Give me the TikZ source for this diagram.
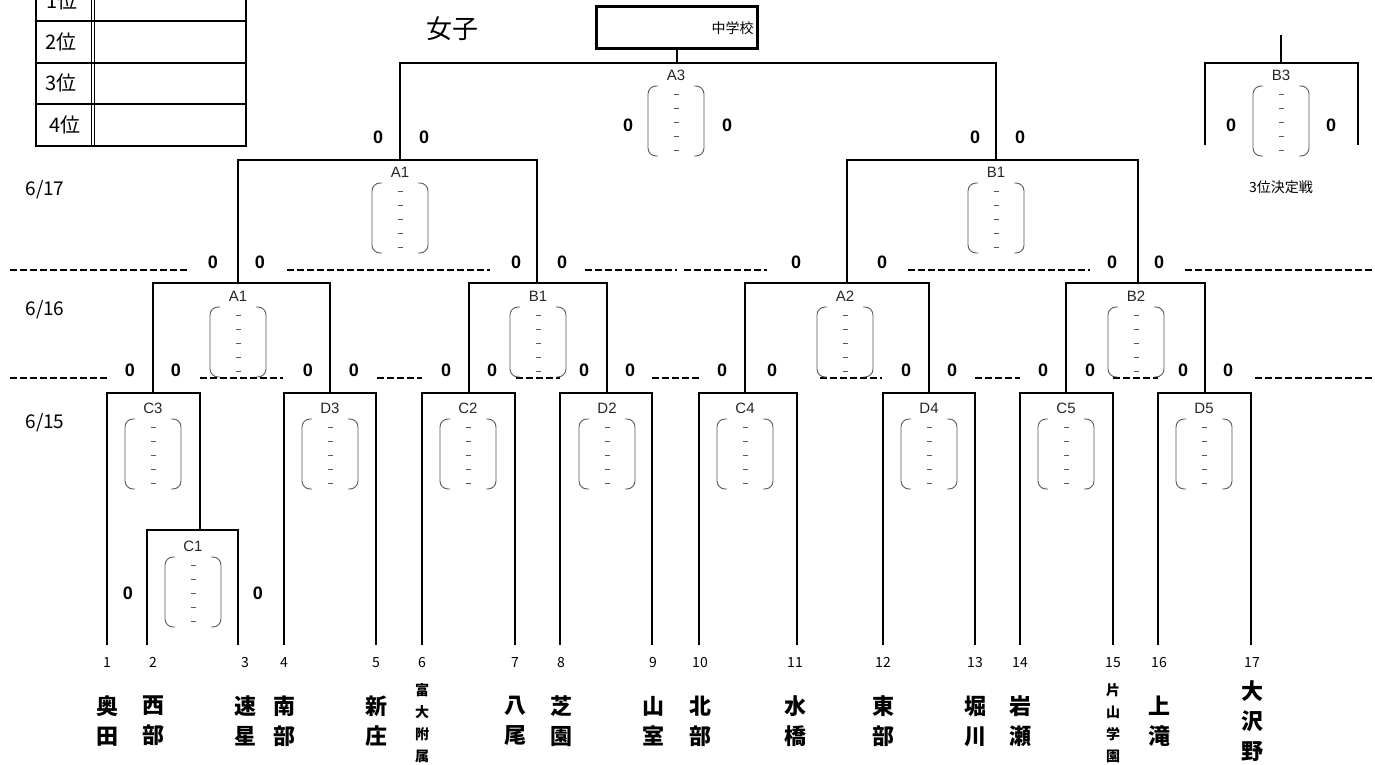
\documentclass[tikz,border=0pt]{standalone}
\usepackage{fontspec}
\setmainfont{Liberation Sans}
\newfontfamily\jp{Noto Sans CJK JP}

\begin{document}
\begin{tikzpicture}[x=1pt,y=-1pt,
  line/.style={line width=1.2pt},
  cut/.style={line width=2pt,dash pattern=on 7pt off 3pt},
  score/.style={font=\fontsize{18}{18}\selectfont\bfseries},
  tag/.style={font=\fontsize{15}{15}\selectfont,text=black!85},
  date/.style={font=\jp\fontsize{19}{19}\selectfont},
  num/.style={font=\jp\fontsize{14}{14}\selectfont,anchor=base},
  rank/.style={font=\jp\fontsize{20}{20}\selectfont},
  team/.style={font=\jp\bfseries\fontsize{22}{30}\selectfont,align=center},
  smallteam/.style={font=\jp\bfseries\fontsize{14}{22}\selectfont,align=center},
  scorebox/.pic={
    \draw[gray!70!black,line width=0.9pt,rounded corners=8pt] (-18,0) -- (-28,0) -- (-28,70) -- (-18,70);
    \draw[gray!70!black,line width=0.9pt,rounded corners=8pt] (18,0) -- (28,0) -- (28,70) -- (18,70);
    \foreach \k in {1,...,5}
      \draw[gray!70!black,line width=0.8pt] (-2.5,{14*\k-6}) -- (2.5,{14*\k-6});
  }]
  \useasboundingbox (0,0) rectangle (1375,765);

  \draw[line] (36,21) -- (246,21) (36,63) -- (246,63) (36,104) -- (246,104);
  \draw[line width=1pt] (91.5,-30) -- (91.5,146) (94.5,-30) -- (94.5,146);
  \draw[line width=2.5pt] (36,-30) -- (36,146) -- (246,146) -- (246,-30);
  \node[rank] (r1) at (62,1) {1位};
  \node[rank] (r2) at (61,42) {2位};
  \node[rank] (r3) at (61,83) {3位};
  \node[rank] (r4) at (65,125) {4位};

  \node[font=\jp\fontsize{26}{26}\selectfont] (girls) at (452,29) {女子};
  \node[draw,line width=3pt,text width=153pt,inner xsep=4pt,minimum height=42pt,align=right,
    font=\jp\fontsize{14}{14}\selectfont] (champ) at (677,28) {中学校};
  \draw[line] (champ.south) -- (677,63);

  \foreach \l/\r/\t/\a/\b in {107/200/393/645/530, 284/376/393/645/645, 422/515/393/645/645,
    560/652/393/645/645, 699/797/393/645/645, 883/975/393/645/645, 1020/1113/393/645/645,
    1158/1251/393/645/645, 147/238/530/645/645, 153/330/283/393/393, 469/607/283/393/393,
    745/929/283/393/393, 1066/1205/283/393/393, 238/537/160/283/283, 847/1138/160/283/283,
    400/996/63/160/160, 1205/1358/63/145/145}
    \draw[line] (\l,\a) |- (\r,\t) -- (\r,\b);
  \draw[line] (1281,35) -- (1281,63);

  \foreach \a/\b in {10/190, 287/490, 585/677, 684/767, 908/1090, 1185/1372}
    \draw[cut] (\a,270) -- (\b,270);
  \foreach \a/\b in {10/108, 200/283, 377/422, 516/560, 652/700, 820/882, 975/1020, 1113/1158, 1255/1372}
    \draw[cut] (\a,378) -- (\b,378);

  \foreach \n/\x/\y [count=\i] in {C3/153/408, D3/330/408, C2/468/408, D2/607/408, C4/745/408,
    D4/929/408, C5/1066/408, D5/1204/408, C1/193/546, A1/238/296, B1/538/296, A2/845/296,
    B2/1136/296, A1/400/172, B1/996/172, A3/676/75, B3/1281/75}
  {
    \node[tag] (m\i) at (\x,\y) {\n};
    \pic at (\x,{\y+11}) {scorebox};
  }

  \foreach \x/\y [count=\i] in {378/137, 424/137, 975/137, 1020/137, 628/125, 727/125, 1231/125, 1331/125,
    213/262, 260/262, 516/262, 562/262, 796/262, 882/262, 1112/262, 1159/262,
    130/370, 176/370, 308/370, 354/370, 446/370, 492/370, 584/370, 630/370,
    722/370, 772/370, 906/370, 952/370, 1043/370, 1090/370, 1183/370, 1228/370,
    128/593, 258/593}
    \node[score] (s\i) at (\x,\y) {0};

  \node[date] (d17) at (45,190) {6/17};
  \node[date] (d16) at (45,310) {6/16};
  \node[date] (d15) at (45,423) {6/15};
  \node[font=\jp\fontsize{14}{14}\selectfont] (third) at (1281,187) {3位決定戦};

  \foreach \x [count=\i] in {107,153,245,284,376,422,515,561,653,700,795,883,975,1020,1113,1159,1252}
    \node[num] (n\i) at (\x,667) {\i};

  \foreach \x/\t [count=\i] in {107/奥\\田, 153/西\\部, 245/速\\星, 284/南\\部, 376/新\\庄,
    515/八\\尾, 561/芝\\園, 653/山\\室, 700/北\\部, 795/水\\橋, 883/東\\部, 975/堀\\川,
    1020/岩\\瀬, 1159/上\\滝, 1252/大\\沢\\野}
    \node[team] (t\i) at (\x,721) {\t};
  \node[smallteam] (tf) at (422,723) {富\\大\\附\\属};
  \node[smallteam] (tk) at (1113,723) {片\\山\\学\\園};
\end{tikzpicture}
\end{document}
